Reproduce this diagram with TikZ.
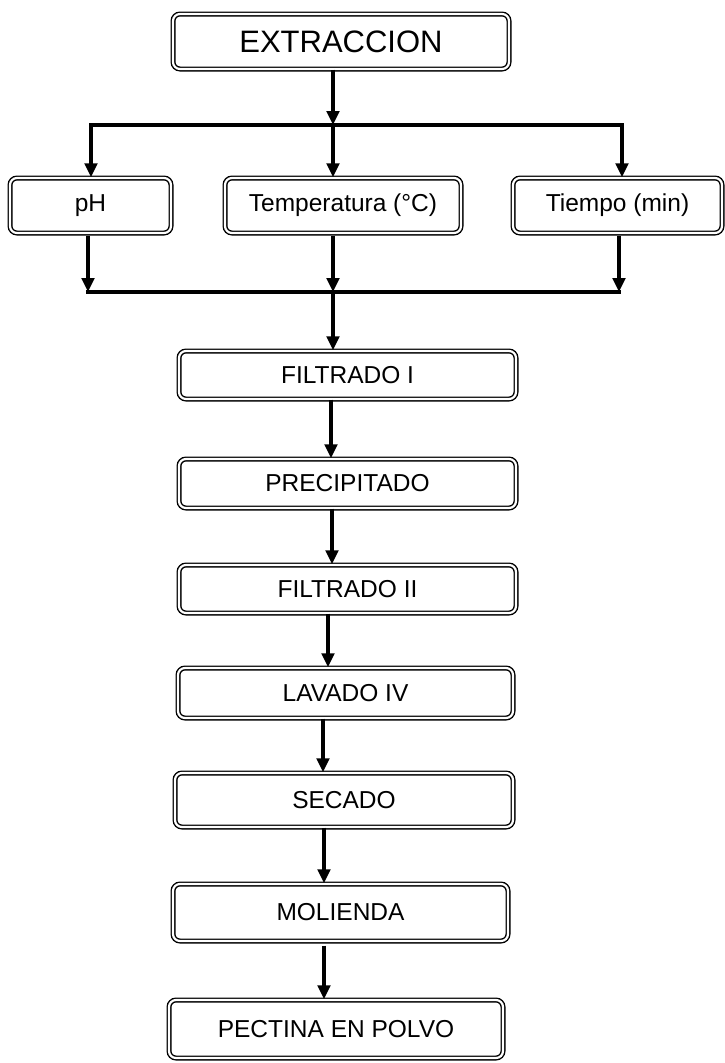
\documentclass[tikz,border=0pt]{standalone}
\usepackage{fontspec}
\setmainfont{Liberation Sans}
\usetikzlibrary{arrows.meta}
\begin{document}
\begin{tikzpicture}[x=1pt,y=1pt,
  box/.style={draw=black, line width=1.4pt, double=white, double distance=2.2pt,
    rounded corners=7pt, inner sep=0pt, align=center,
    font=\fontsize{24.5}{29}\selectfont},
  conn/.style={line width=3.6pt, line cap=butt},
  arr/.style={conn, -{Triangle[length=14pt,width=12.5pt]}}]
\useasboundingbox (0,0) rectangle (725,-1063);
\fill[white] (0,0) rectangle (725,-1063);

% nodes
\node[box, minimum width=336pt, minimum height=55pt, font=\fontsize{31}{36}\selectfont] (ext) at (341,-41.5) {EXTRACCION};
\node[box, minimum width=161pt, minimum height=55pt] (ph) at (90.5,-205.5) {pH};
\node[box, minimum width=236pt, minimum height=55pt] (temp) at (343,-205.5) {Temperatura (°C)};
\node[box, minimum width=209pt, minimum height=55pt] (tiempo) at (617.5,-205.5) {Tiempo (min)};
\node[box, minimum width=337pt, minimum height=48pt] (f1) at (347.5,-375) {FILTRADO I};
\node[box, minimum width=337pt, minimum height=49pt] (prec) at (347.5,-483.5) {PRECIPITADO};
\node[box, minimum width=337pt, minimum height=48pt] (f2) at (347.5,-589) {FILTRADO II};
\node[box, minimum width=335pt, minimum height=50pt] (lav) at (345.5,-693) {LAVADO IV};
\node[box, minimum width=338pt, minimum height=54pt] (sec) at (344,-800) {SECADO};
\node[box, minimum width=335pt, minimum height=57pt] (mol) at (340.5,-912.5) {MOLIENDA};
\node[box, minimum width=334pt, minimum height=58pt] (pec) at (336,-1029) {PECTINA EN POLVO};

% junction coordinates
\coordinate (j1) at (333,-125);
\coordinate (jL) at (91,-125);
\coordinate (jR) at (622,-125);
\coordinate (k1) at (333,-292);
\coordinate (kL) at (88,-292);
\coordinate (kR) at (619,-292);
\coordinate (s1) at (331,0);
\coordinate (s2) at (332,0);
\coordinate (s3) at (328,0);
\coordinate (s4) at (323,0);
\coordinate (s5) at (324,0);
\coordinate (s6) at (324,0);

% connectors: extraction to parameters
\draw[arr] (ext.south -| j1) -- (j1);
\draw[conn] ([xshift=-1.8pt]jL) -- ([xshift=1.8pt]jR);
\draw[arr] (jL) -- (jL |- ph.north);
\draw[arr] (j1) -- (j1 |- temp.north);
\draw[arr] (jR) -- (jR |- tiempo.north);

% parameters to filtration
\draw[arr] ([yshift=-2pt]ph.south -| kL) -- (kL);
\draw[arr] ([yshift=-2pt]temp.south -| k1) -- (k1);
\draw[arr] ([yshift=-2pt]tiempo.south -| kR) -- (kR);
\draw[conn] ([xshift=-1.8pt]kL) -- ([xshift=1.8pt]kR);
\draw[arr] (k1) -- (k1 |- f1.north);

% main sequence
\draw[arr] (f1.south -| s1) -- (prec.north -| s1);
\draw[arr] (prec.south -| s2) -- (f2.north -| s2);
\draw[arr] (f2.south -| s3) -- (lav.north -| s3);
\draw[arr] (lav.south -| s4) -- (sec.north -| s4);
\draw[arr] (sec.south -| s5) -- (mol.north -| s5);
\draw[arr] ([yshift=-4pt]mol.south -| s6) -- (pec.north -| s6);
\end{tikzpicture}
\end{document}
